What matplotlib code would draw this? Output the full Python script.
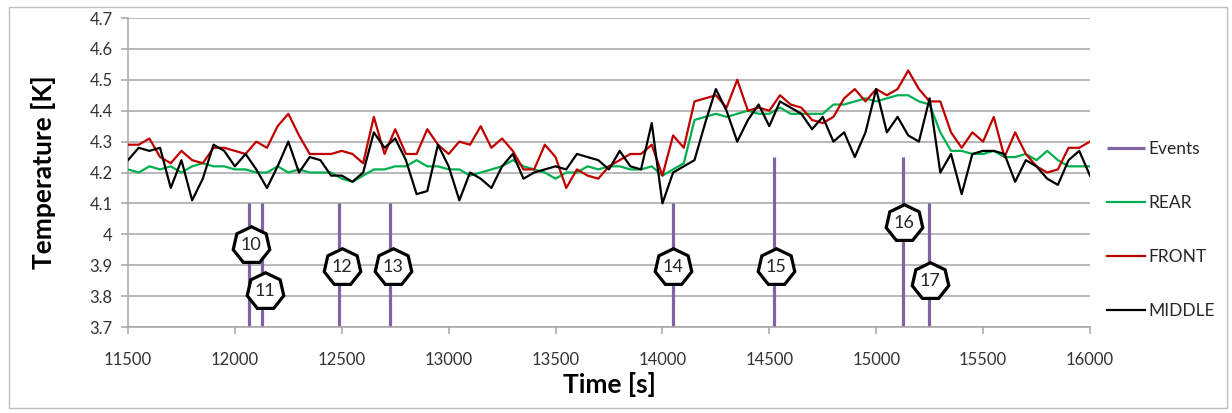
import numpy as np
import matplotlib
matplotlib.use("Agg")
import matplotlib.pyplot as plt
from matplotlib.patches import Rectangle

plt.rcParams['font.family'] = ['Lato', 'DejaVu Sans']

# sample times [s], one reading every 50 s
time_s = np.arange(11500, 16001, 50)

rear = [4.21, 4.20, 4.22, 4.21, 4.22, 4.20, 4.22, 4.23, 4.22, 4.22,
        4.21, 4.21, 4.20, 4.20, 4.22, 4.20, 4.21, 4.20, 4.20, 4.20,
        4.18, 4.17, 4.19, 4.21, 4.21, 4.22, 4.22, 4.24, 4.22, 4.22,
        4.21, 4.21, 4.19, 4.20, 4.21, 4.22, 4.24, 4.22, 4.21, 4.20,
        4.18, 4.20, 4.20, 4.22, 4.21, 4.22, 4.22, 4.21, 4.21, 4.22,
        4.19, 4.21, 4.23, 4.37, 4.38, 4.39, 4.38, 4.39, 4.40, 4.39,
        4.39, 4.41, 4.39, 4.39, 4.39, 4.39, 4.42, 4.42, 4.43, 4.44,
        4.43, 4.44, 4.45, 4.45, 4.43, 4.42, 4.33, 4.27, 4.27, 4.26,
        4.26, 4.27, 4.25, 4.25, 4.26, 4.24, 4.27, 4.24, 4.22, 4.22, 4.22]

front = [4.29, 4.29, 4.31, 4.25, 4.23, 4.27, 4.24, 4.23, 4.28, 4.28,
         4.27, 4.26, 4.30, 4.28, 4.35, 4.39, 4.32, 4.26, 4.26, 4.26,
         4.27, 4.26, 4.23, 4.38, 4.26, 4.34, 4.26, 4.26, 4.34, 4.29,
         4.26, 4.30, 4.29, 4.35, 4.28, 4.31, 4.27, 4.21, 4.21, 4.29,
         4.25, 4.15, 4.21, 4.19, 4.18, 4.22, 4.24, 4.26, 4.26, 4.29,
         4.19, 4.32, 4.28, 4.43, 4.44, 4.45, 4.41, 4.50, 4.40, 4.41,
         4.40, 4.45, 4.42, 4.41, 4.37, 4.36, 4.38, 4.44, 4.47, 4.43,
         4.47, 4.45, 4.47, 4.53, 4.47, 4.43, 4.43, 4.33, 4.28, 4.33,
         4.30, 4.38, 4.25, 4.33, 4.26, 4.22, 4.20, 4.21, 4.28, 4.28, 4.30]

middle = [4.24, 4.28, 4.27, 4.28, 4.15, 4.24, 4.11, 4.18, 4.29, 4.27,
          4.22, 4.26, 4.21, 4.15, 4.22, 4.30, 4.20, 4.25, 4.24, 4.19,
          4.19, 4.17, 4.20, 4.33, 4.28, 4.31, 4.24, 4.13, 4.14, 4.29,
          4.22, 4.11, 4.20, 4.18, 4.15, 4.22, 4.26, 4.18, 4.20, 4.21,
          4.22, 4.21, 4.26, 4.25, 4.24, 4.21, 4.27, 4.22, 4.21, 4.36,
          4.10, 4.20, 4.22, 4.24, 4.36, 4.47, 4.40, 4.30, 4.37, 4.42,
          4.35, 4.43, 4.41, 4.39, 4.34, 4.38, 4.30, 4.33, 4.25, 4.33,
          4.47, 4.33, 4.38, 4.32, 4.30, 4.44, 4.20, 4.26, 4.13, 4.26,
          4.27, 4.27, 4.26, 4.17, 4.24, 4.22, 4.18, 4.16, 4.24, 4.27, 4.19]

# events: time, line top, label and label height
event_ids = [10, 11, 12, 13, 14, 15, 16, 17]
event_times = [12066, 12127, 12487, 12725, 14049, 14521, 15124, 15246]
event_tops = [4.1, 4.1, 4.1, 4.1, 4.1, 4.25, 4.25, 4.1]
label_x = [12075, 12140, 12500, 12740, 14049, 14530, 15130, 15250]
label_y = [3.965, 3.815, 3.895, 3.895, 3.895, 3.895, 4.035, 3.85]

yticks = [3.7, 3.8, 3.9, 4.0, 4.1, 4.2, 4.3, 4.4, 4.5, 4.6, 4.7]
ytick_labels = ["3.7", "3.8", "3.9", "4", "4.1", "4.2", "4.3", "4.4", "4.5", "4.6", "4.7"]

fig = plt.figure(figsize=(12.32, 4.13), dpi=100)
ax = fig.add_axes([0.1039, 0.2082, 0.7808, 0.7482])

# outer chart border
fig.patches.append(Rectangle((0.007, 0.012), 0.989, 0.972, transform=fig.transFigure,
                             fill=False, edgecolor='#BFBFBF', linewidth=1))

ax.vlines(event_times, 3.7, event_tops, color='#8064A2', linewidth=2.3,
          label='Events', zorder=2)
ax.plot(time_s, rear, color='#00B050', linewidth=1.6, label='REAR', zorder=3)
ax.plot(time_s, front, color='#C00000', linewidth=1.6, label='FRONT', zorder=3)
ax.plot(time_s, middle, color='black', linewidth=1.6, label='MIDDLE', zorder=4)

for eid, lx, ly in zip(event_ids, label_x, label_y):
    ax.plot(lx, ly, marker=(7, 0, 0), markersize=27, markerfacecolor='white',
            markeredgecolor='black', markeredgewidth=2.3, zorder=5)
    ax.text(lx, ly, str(eid), ha='center', va='center', fontsize=13,
            color='#262626', zorder=6)

ax.set_xlim(11500, 16000)
ax.set_ylim(3.7, 4.7)
ax.set_xticks(np.arange(11500, 16001, 500))
ax.set_yticks(yticks)
ax.set_yticklabels(ytick_labels)
ax.yaxis.grid(True, color='#A6A6A6', linewidth=1.1)
ax.set_axisbelow(True)
for s in ['top', 'right']:
    ax.spines[s].set_visible(False)
for s in ['left', 'bottom']:
    ax.spines[s].set_color('#A6A6A6')
    ax.spines[s].set_linewidth(1.1)
ax.tick_params(axis='both', colors='#A6A6A6', labelcolor='#333333',
               labelsize=12, length=5, width=1.1, direction='out')
ax.tick_params(axis='y', pad=6)
ax.tick_params(axis='x', pad=13)

ax.set_xlabel("Time [s]", fontsize=19, fontweight='bold', labelpad=3)
ax.set_ylabel("Temperature [K]", fontsize=19, fontweight='bold', labelpad=24)

leg = ax.legend(loc='upper left', bbox_to_anchor=(1.01, 0.625), frameon=False,
                fontsize=12.5, labelspacing=2.2, handlelength=2.2,
                handletextpad=0.2, borderaxespad=0)
for t in leg.get_texts():
    t.set_color('#262626')

fig.savefig("out.png", dpi=100)
